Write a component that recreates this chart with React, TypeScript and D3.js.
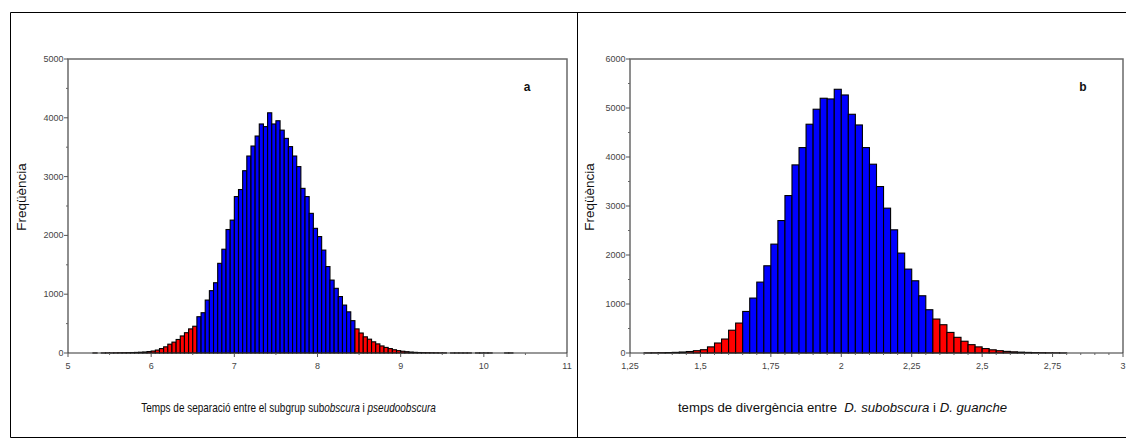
import React from "react";
import * as d3 from "d3";

// Panel a: separation time between the subobscura and pseudoobscura subgroups
const startA = 5.3;
const binWidthA = 0.05;
const countsA = [
  // 5.30 - 6.00
  1, 0, 1, 2, 2, 3, 4, 5, 6, 8, 10, 13, 17, 24, 34,
  // 6.05 - 6.50
  50, 75, 105, 150, 185, 230, 290, 345, 410, 455,
  // 6.55 - 8.40
  617, 685, 900, 1060, 1195, 1525, 1765, 2100, 2260, 2660, 2780, 3100, 3350, 3520,
  3690, 3895, 3850, 4085, 3895, 3950, 3790, 3650, 3510, 3350, 3170, 2800, 2660,
  2375, 2120, 1980, 1750, 1470, 1240, 1100, 960, 815, 700, 550,
  // 8.45 - 8.95
  410, 340, 275, 235, 190, 155, 120, 95, 75, 55, 40,
  // 9.00 - 10.30
  30, 22, 16, 11, 8, 6, 5, 4, 3, 2, 2, 0, 1, 1, 1, 1, 1, 0, 1, 1, 1, 1, 0, 0, 0,
  1, 1,
];
const lowerCutA = 6.55;
const upperCutA = 8.45;
const xTicksA = [5, 6, 7, 8, 9, 10, 11];
const yTicksA = [0, 1000, 2000, 3000, 4000, 5000];

// Panel b: divergence time between D. subobscura and D. guanche
const startB = 1.3;
const binWidthB = 0.025;
const countsB = [
  // 1.300 - 1.450
  2, 4, 6, 9, 13, 20, 30,
  // 1.475 - 1.625
  47, 67, 125, 204, 285, 465, 611,
  // 1.650 - 2.300
  848, 1121, 1447, 1780, 2222, 2703, 3213, 3839, 4192, 4669, 4975, 5199, 5185,
  5382, 5266, 4872, 4654, 4192, 3853, 3397, 2956, 2514, 2039, 1712, 1474, 1168, 883,
  // 2.325 - 2.775
  693, 577, 420, 320, 240, 170, 125, 90, 65, 47, 33, 24, 17, 12, 8, 6, 4, 3, 1,
];
const lowerCutB = 1.65;
const upperCutB = 2.325;
const xTicksB = [1.25, 1.5, 1.75, 2, 2.25, 2.5, 2.75, 3];
const yTicksB = [0, 1000, 2000, 3000, 4000, 5000, 6000];

const catalan = d3.formatLocale({
  decimal: ",",
  thousands: ".",
  grouping: [3],
  currency: ["", "€"],
});
const fmtX = catalan.format("~g");
const fmtY = catalan.format("d");

const TICK_FONT = "'Liberation Sans', Arial, sans-serif";
const CAPTION_FONT = "'Liberation Sans', Arial, sans-serif";

type PanelProps = {
  start: number;
  binWidth: number;
  counts: number[];
  lowerCut: number;
  upperCut: number;
  xDomain: [number, number];
  xRange: [number, number];
  yMax: number;
  xTicks: number[];
  yTicks: number[];
  xMinorStep: number;
  yMinorStep: number;
  tag: string;
  tagX: number;
  titleX: number;
};

function Panel(p: PanelProps) {
  const x = d3.scaleLinear().domain(p.xDomain).range(p.xRange);
  const y = d3.scaleLinear().domain([0, p.yMax]).range([353, 59]);
  const [x0, x1] = p.xRange;
  const y0 = y(0);
  const yTop = y(p.yMax);

  const bins = p.counts.map((c, i) => {
    const lo = +(p.start + i * p.binWidth).toFixed(4);
    return { lo, hi: lo + p.binWidth, c };
  });
  const eps = 1e-9;
  const xMinor = d3
    .range(p.xDomain[0], p.xDomain[1] + eps, p.xMinorStep)
    .filter((v) => !p.xTicks.some((t) => Math.abs(t - v) < eps));
  const yMinor = d3
    .range(0, p.yMax + eps, p.yMinorStep)
    .filter((v) => !p.yTicks.some((t) => Math.abs(t - v) < eps));

  return (
    <g>
      {/* frame */}
      <path
        d={`M${x0},${y0}V${yTop}H${x1}V${y0}`}
        fill="none"
        stroke="#6a6a6a"
        strokeWidth={1.5}
      />
      {/* bars */}
      {bins
        .filter((b) => b.c > 0)
        .map((b, i) => {
          const tail = b.lo < p.lowerCut - eps || b.lo >= p.upperCut - eps;
          return (
            <rect
              key={i}
              x={x(b.lo)}
              y={y(b.c)}
              width={x(b.hi) - x(b.lo)}
              height={y0 - y(b.c)}
              fill={tail ? "#ff0000" : "#0000ff"}
              stroke="#000"
              strokeWidth={1.1}
            />
          );
        })}
      {/* x axis */}
      <line x1={x0} x2={x1} y1={y0} y2={y0} stroke="#333" strokeWidth={1.2} />
      {p.xTicks.map((t) => (
        <g key={`xt${t}`}>
          <line x1={x(t)} x2={x(t)} y1={y0} y2={y0 + 4} stroke="#555" />
          <text
            x={x(t)}
            y={369}
            textAnchor="middle"
            fontFamily={TICK_FONT}
            fontSize={9}
            fill="#444"
          >
            {fmtX(t)}
          </text>
        </g>
      ))}
      {xMinor.map((t) => (
        <line key={`xm${t}`} x1={x(t)} x2={x(t)} y1={y0} y2={y0 + 2} stroke="#666" />
      ))}
      {/* y axis */}
      {p.yTicks.map((t) => (
        <g key={`yt${t}`}>
          <line x1={x0 - 4} x2={x0} y1={y(t)} y2={y(t)} stroke="#555" />
          <text
            x={x0 - 4.5}
            y={y(t)}
            dy="0.34em"
            textAnchor="end"
            fontFamily={TICK_FONT}
            fontSize={9}
            fill="#444"
          >
            {fmtY(t)}
          </text>
        </g>
      ))}
      {yMinor.map((t) => (
        <line key={`ym${t}`} x1={x0 - 2} x2={x0} y1={y(t)} y2={y(t)} stroke="#666" />
      ))}
      <text
        transform={`translate(${p.titleX},197) rotate(-90)`}
        textAnchor="middle"
        dy="0.35em"
        fontFamily={TICK_FONT}
        fontSize={13.5}
        fill="#111"
      >
        Freqüència
      </text>
      <text
        x={p.tagX}
        y={91}
        textAnchor="middle"
        fontFamily={TICK_FONT}
        fontWeight="bold"
        fontSize={12}
        fill="#111"
      >
        {p.tag}
      </text>
    </g>
  );
}

export default function App() {
  return (
    <svg
      width={1126}
      height={448}
      viewBox="0 0 1126 448"
      style={{ position: "absolute", left: 0, top: 0, background: "#fff" }}
    >
      <rect x={0} y={0} width={1126} height={448} fill="#fff" />
      {/* outer table frame */}
      <path d="M10.5,437.5V12.5H1126M10.5,437.5H1126M577.5,12.5V437.5" fill="none" stroke="#000" strokeWidth={1} />
      <Panel
        start={startA}
        binWidth={binWidthA}
        counts={countsA}
        lowerCut={lowerCutA}
        upperCut={upperCutA}
        xDomain={[5, 11]}
        xRange={[68, 567]}
        yMax={5000}
        xTicks={xTicksA}
        yTicks={yTicksA}
        xMinorStep={0.5}
        yMinorStep={500}
        tag="a"
        tagX={527}
        titleX={21}
      />
      <Panel
        start={startB}
        binWidth={binWidthB}
        counts={countsB}
        lowerCut={lowerCutB}
        upperCut={upperCutB}
        xDomain={[1.25, 3]}
        xRange={[630, 1123]}
        yMax={6000}
        xTicks={xTicksB}
        yTicks={yTicksB}
        xMinorStep={0.05}
        yMinorStep={500}
        tag="b"
        tagX={1083}
        titleX={589}
      />
      {/* condensed caption, narrower face */}
      <text
        transform="translate(288.5,412) scale(0.8,1)"
        textAnchor="middle"
        fontFamily={CAPTION_FONT}
        fontSize={12.5}
        fill="#111"
      >
        Temps de separació entre el subgrup sub<tspan fontStyle="italic">obscura</tspan> i{" "}
        <tspan fontStyle="italic">pseudoobscura</tspan>
      </text>
      <text
        x={842.5}
        y={412}
        textAnchor="middle"
        fontFamily={CAPTION_FONT}
        fontSize={13.2}
        fill="#111"
        xmlSpace="preserve"
      >
        {"temps de divergència entre  "}
        <tspan fontStyle="italic">D. subobscura</tspan>
        {" i "}
        <tspan fontStyle="italic">D. guanche</tspan>
      </text>
    </svg>
  );
}
